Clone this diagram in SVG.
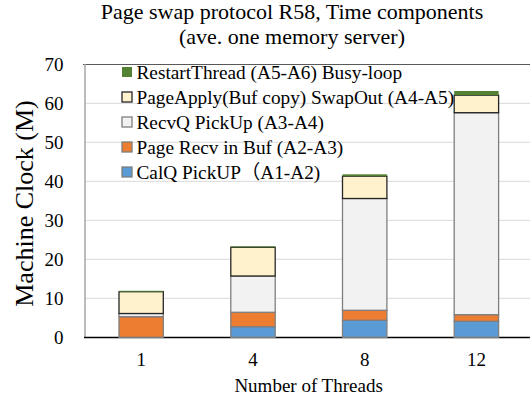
<svg xmlns="http://www.w3.org/2000/svg" width="530" height="403" viewBox="0 0 530 403">
  <style>
    text { font-family: "Liberation Serif", "Times New Roman", "Noto Sans CJK JP", serif; fill: #000; }
    .title { font-size: 22px; text-anchor: middle; }
    .tick { font-size: 19px; text-anchor: end; }
    .cat { font-size: 19px; text-anchor: middle; }
    .axis-title { font-size: 19px; text-anchor: middle; }
    .ytitle { font-size: 26px; text-anchor: middle; }
    .legend { font-size: 19.3px; }
    .grid { stroke: #d9d9d9; stroke-width: 1; }
    .calq { fill: #5b9bd5; stroke: #7f7f7f; stroke-width: 1.3; }
    .recv { fill: #ed7d31; stroke: #7f7f7f; stroke-width: 1.3; }
    .pick { fill: #f2f2f2; stroke: #7f7f7f; stroke-width: 1.3; }
    .apply { fill: #fff2cc; stroke: #262626; stroke-width: 1.3; }
    .restart { fill: #548235; stroke: none; }
  </style>

  <!-- chart title -->
  <g id="title">
    <text class="title" x="292" y="19">Page swap protocol R58, Time components</text>
    <text class="title" x="292" y="44">(ave. one memory server)</text>
  </g>

  <!-- horizontal gridlines, every 10 units (3.9 px per unit, zero at y=337.3) -->
  <g id="gridlines">
    <line class="grid" x1="85" y1="298.3" x2="530" y2="298.3"/>
    <line class="grid" x1="85" y1="259.3" x2="530" y2="259.3"/>
    <line class="grid" x1="85" y1="220.3" x2="530" y2="220.3"/>
    <line class="grid" x1="85" y1="181.3" x2="530" y2="181.3"/>
    <line class="grid" x1="85" y1="142.3" x2="530" y2="142.3"/>
    <line class="grid" x1="85" y1="103.3" x2="530" y2="103.3"/>
  </g>

  <!-- plot frame and axes -->
  <g id="axes">
    <line x1="83" y1="64.5" x2="530" y2="64.5" stroke="#595959" stroke-width="1"/>
    <line x1="85" y1="64" x2="85" y2="337.5" stroke="#a6a6a6" stroke-width="1.5"/>
    <line x1="84" y1="337.5" x2="530" y2="337.5" stroke="#000" stroke-width="1.5"/>
  </g>

  <!-- value axis labels -->
  <g id="y-ticks">
    <text class="tick" x="63.5" y="343.8">0</text>
    <text class="tick" x="63.5" y="304.8">10</text>
    <text class="tick" x="63.5" y="265.8">20</text>
    <text class="tick" x="63.5" y="226.8">30</text>
    <text class="tick" x="63.5" y="187.8">40</text>
    <text class="tick" x="63.5" y="148.8">50</text>
    <text class="tick" x="63.5" y="109.8">60</text>
    <text class="tick" x="63.5" y="70.8">70</text>
  </g>

  <g id="y-title">
    <text class="ytitle" transform="translate(33,203.5) rotate(-90)">Machine Clock (M)</text>
  </g>

  <!-- stacked bars -->
  <g id="bar-1">
    <rect class="recv" x="119" y="316.7" width="44.3" height="20.6"/>
    <rect class="pick" x="119" y="313.5" width="44.3" height="3.2"/>
    <rect class="apply" x="119" y="291.7" width="44.3" height="21.8"/>
    <rect class="restart" x="119" y="290.8" width="44.3" height="0.9"/>
  </g>

  <g id="bar-4">
    <rect class="calq" x="230.8" y="326.7" width="44.4" height="10.6"/>
    <rect class="recv" x="230.8" y="312.3" width="44.4" height="14.4"/>
    <rect class="pick" x="230.8" y="276" width="44.4" height="36.3"/>
    <rect class="apply" x="230.8" y="247.3" width="44.4" height="28.7"/>
    <rect class="restart" x="230.8" y="246.3" width="44.4" height="1"/>
  </g>

  <g id="bar-8">
    <rect class="calq" x="342.5" y="320.3" width="44.4" height="17"/>
    <rect class="recv" x="342.5" y="310.3" width="44.4" height="10"/>
    <rect class="pick" x="342.5" y="198.5" width="44.4" height="111.8"/>
    <rect class="apply" x="342.5" y="176.2" width="44.4" height="22.3"/>
    <rect class="restart" x="342.5" y="174.3" width="44.4" height="1.9"/>
  </g>

  <g id="bar-12">
    <rect class="calq" x="454.2" y="321.3" width="44.4" height="16"/>
    <rect class="recv" x="454.2" y="314.7" width="44.4" height="6.6"/>
    <rect class="pick" x="454.2" y="112.7" width="44.4" height="202"/>
    <rect class="apply" x="454.2" y="95.2" width="44.4" height="17.5"/>
    <rect class="restart" x="454.2" y="91" width="44.4" height="4.2"/>
  </g>

  <!-- category axis labels -->
  <g id="x-ticks">
    <text class="cat" x="141.2" y="366">1</text>
    <text class="cat" x="253" y="366">4</text>
    <text class="cat" x="364.7" y="366">8</text>
    <text class="cat" x="476.4" y="366">12</text>
  </g>

  <g id="x-title">
    <text class="axis-title" x="308.6" y="391.5">Number of Threads</text>
  </g>

  <!-- legend -->
  <g id="legend">
    <rect class="restart" x="122" y="67" width="10" height="10"/>
    <text class="legend" x="136.5" y="78.5">RestartThread (A5-A6) Busy-loop</text>
    <rect class="apply" x="122" y="92" width="10" height="10"/>
    <text class="legend" x="136.5" y="103.5">PageApply(Buf copy) SwapOut (A4-A5)</text>
    <rect class="pick" x="122" y="117" width="10" height="10"/>
    <text class="legend" x="136.5" y="128.5">RecvQ PickUp (A3-A4)</text>
    <rect class="recv" x="122" y="142" width="10" height="10"/>
    <text class="legend" x="136.5" y="153.5">Page Recv in Buf (A2-A3)</text>
    <rect class="calq" x="122" y="167" width="10" height="10"/>
    <text class="legend" x="136.5" y="178.5">CalQ PickUP（A1-A2)</text>
  </g>
</svg>
